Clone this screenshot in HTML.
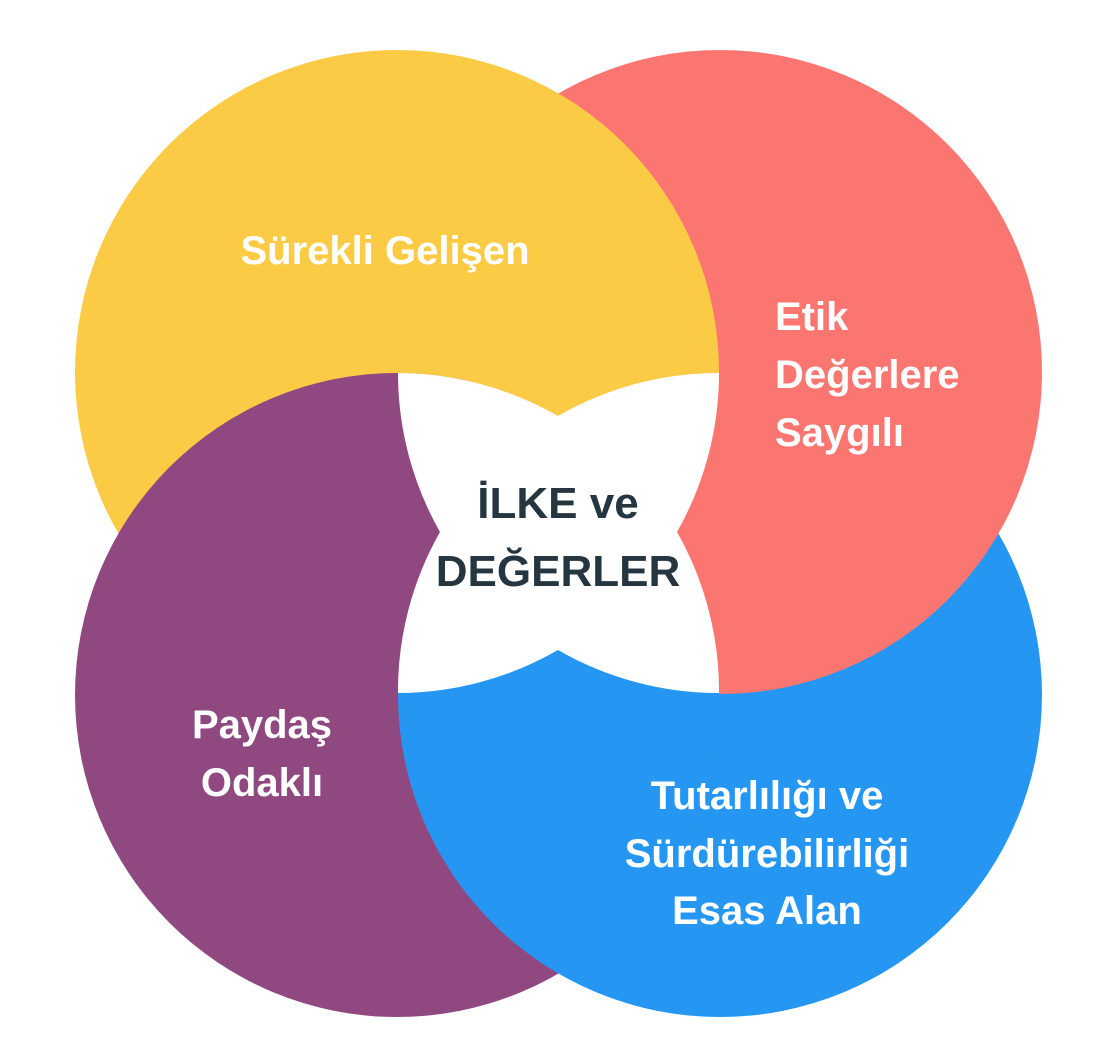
<!DOCTYPE html>
<html><head><meta charset="utf-8"><style>
html,body{margin:0;padding:0;background:#fff;}
svg{display:block;}
text{font-family:"Liberation Sans",sans-serif;font-weight:bold;fill:#fff;}
</style></head><body>
<svg width="1110" height="1058" viewBox="0 0 1110 1058" xmlns="http://www.w3.org/2000/svg">
<defs>
<clipPath id="cP"><circle cx="397" cy="695" r="322"/></clipPath>
</defs>
<circle cx="720" cy="695" r="322" fill="#2597F3"/>
<circle cx="720" cy="372" r="322" fill="#FB7671"/>
<circle cx="397" cy="372" r="322" fill="#FCCB45"/>
<circle cx="397" cy="695" r="322" fill="#904980"/>
<g clip-path="url(#cP)"><circle cx="720" cy="695" r="322" fill="#2597F3"/></g>
<path d="M398,373 A322,322 0 0 1 558,416 A322,322 0 0 1 719,373 A322,322 0 0 1 677,532 A322,322 0 0 1 719,693 A322,322 0 0 1 558,650 A322,322 0 0 1 398,693 A322,322 0 0 1 440,532 A322,322 0 0 1 398,373 Z" fill="#fff"/>
<text x="385" y="264" font-size="40" text-anchor="middle">Sürekli Gelişen</text>
<text x="775" y="330" font-size="40">Etik</text>
<text x="775" y="388" font-size="40">Değerlere</text>
<text x="775" y="446" font-size="40">Saygılı</text>
<text x="262" y="738" font-size="40" text-anchor="middle">Paydaş</text>
<text x="262" y="796" font-size="40" text-anchor="middle">Odaklı</text>
<text x="767" y="809" font-size="40" text-anchor="middle">Tutarlılığı ve</text>
<text x="767" y="867" font-size="40" text-anchor="middle">Sürdürebilirliği</text>
<text x="767" y="924" font-size="40" text-anchor="middle">Esas Alan</text>
<text x="558" y="518" font-size="44" text-anchor="middle" style="fill:#263640">İLKE ve</text>
<text x="558" y="586" font-size="44" text-anchor="middle" style="fill:#263640">DEĞERLER</text>
</svg>
</body></html>
